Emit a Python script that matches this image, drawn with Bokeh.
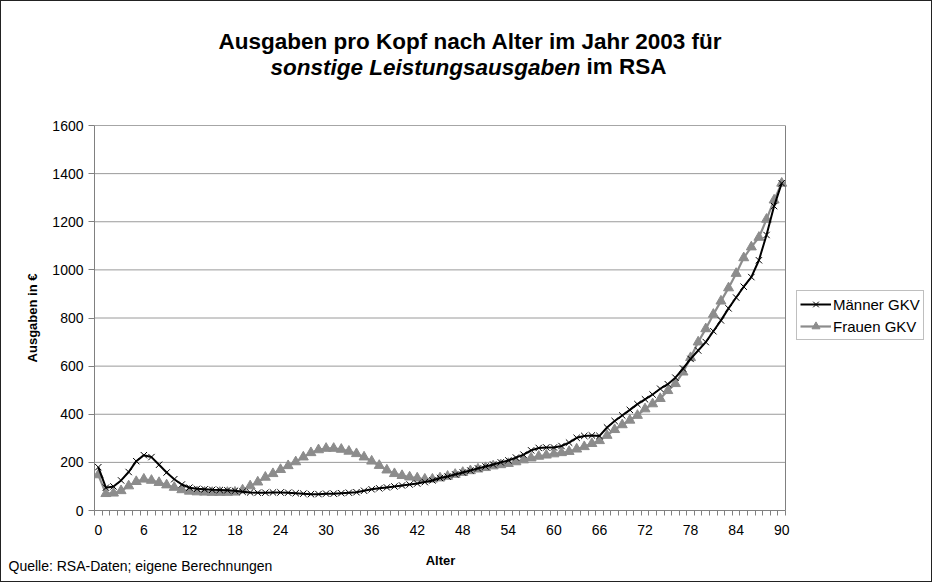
from bokeh.plotting import figure
from bokeh.models import (ColumnDataSource, FixedTicker, Label, Legend, LegendItem, Range1d)
from bokeh.embed import file_html
from bokeh.resources import INLINE

ages = list(range(0, 91))
maenner = [180, 95, 100, 125, 160, 205, 230, 222, 190, 158,
           130, 108, 95, 90, 88, 86, 85, 84, 82, 78,
           75, 74, 74, 75, 75, 74, 72, 70, 68, 68,
           70, 70, 72, 74, 76, 82, 88, 92, 96, 100,
           104, 108, 112, 118, 125, 135, 141, 150, 158, 166,
           175, 183, 191, 200, 208, 220, 232, 250, 260, 262,
           262, 268, 282, 302, 310, 312, 310, 345, 372, 395,
           418, 442, 462, 482, 506, 525, 552, 590, 630, 665,
           700, 745, 790, 840, 885, 930, 970, 1040, 1145, 1265,
           1360]
frauen = [148, 70, 72, 82, 102, 120, 130, 125, 116, 106,
          96, 86, 80, 77, 76, 75, 75, 75, 76, 85,
          102, 118, 138, 153, 170, 186, 202, 222, 240, 252,
          258, 258, 254, 246, 236, 222, 205, 187, 168, 153,
          145, 139, 135, 130, 130, 135, 142, 150, 158, 165,
          172, 178, 185, 190, 195, 202, 210, 218, 225, 230,
          235, 240, 245, 255, 265, 278, 290, 312, 336, 356,
          375, 395, 422, 443, 465, 498, 527, 575, 635, 700,
          755, 815, 870, 925, 985, 1050, 1095, 1135, 1210, 1290,
          1360]
x_ticks = list(range(0, 91, 6))
y_ticks = list(range(0, 1601, 200))

FONT = "Liberation Sans"
GRAY = "#8c8c8c"
AXIS_GRAY = "#808080"

# layout in pixels
W, H = 932, 582
LEFT, TOP, BOTTOM = 93, 124, 73
PLOT_W = 691                      # width of the plot area proper
FRAME_W = W - LEFT                # frame runs to the right edge (legend lives there)

x_lo, x_hi = ages[0] - 0.5, ages[-1] + 0.5
n_cat = len(ages)
x_end = x_lo + FRAME_W * n_cat / PLOT_W

src = ColumnDataSource(dict(alter=ages, m=maenner, f=frauen))

p = figure(width=W, height=H, output_backend="svg", toolbar_location=None,
           x_range=Range1d(x_lo, x_end), y_range=Range1d(y_ticks[0], y_ticks[-1]),
           min_border_left=LEFT, min_border_right=0, min_border_top=TOP,
           min_border_bottom=BOTTOM)
p.styles = {"border": "1px solid #222"}
p.background_fill_color = "white"
p.border_fill_color = "white"
p.outline_line_color = None

p.xaxis.ticker = FixedTicker(ticks=x_ticks, minor_ticks=[a - 0.5 for a in ages + [ages[-1] + 1]])
p.xaxis.bounds = (x_lo, x_hi)
p.yaxis.ticker = FixedTicker(ticks=y_ticks)
for ax in (p.xaxis[0], p.yaxis[0]):
    ax.axis_line_color = AXIS_GRAY
    ax.major_label_text_font = FONT
    ax.major_label_text_font_size = "14px"
    ax.major_label_text_color = "black"
    ax.axis_label_text_font = FONT
    ax.axis_label_text_font_size = "13px"
    ax.axis_label_text_font_style = "bold"
    ax.axis_label_text_color = "black"
p.xaxis.major_tick_line_color = None
p.xaxis.minor_tick_line_color = AXIS_GRAY
p.xaxis.minor_tick_out = 5
p.xaxis.minor_tick_in = 0
p.xaxis.major_label_standoff = 8
p.yaxis.major_tick_line_color = AXIS_GRAY
p.yaxis.major_tick_out = 6
p.yaxis.major_tick_in = 0
p.yaxis.minor_tick_line_color = None
p.yaxis.major_label_standoff = 5
p.yaxis.axis_label = "Ausgaben in €"
p.yaxis.axis_label_standoff = 9

p.xgrid.visible = False
p.ygrid.visible = False

# horizontal grid lines and plot-area border, limited to the category span
p.segment(x0=[x_lo] * len(y_ticks), x1=[x_hi] * len(y_ticks), y0=y_ticks, y1=y_ticks,
          line_color="#9a9a9a", line_width=1)
p.quad(left=[x_lo], right=[x_hi], bottom=[y_ticks[0]], top=[y_ticks[-1]],
       fill_color=None, line_color=AXIS_GRAY, line_width=1)

fl = p.line("alter", "f", source=src, line_color=GRAY, line_width=2.2)
fs = p.scatter("alter", "f", source=src, marker="triangle", size=10,
               fill_color=GRAY, line_color=GRAY)
ml = p.line("alter", "m", source=src, line_color="black", line_width=2)
ms = p.scatter("alter", "m", source=src, marker="x", size=9,
               line_color="black", line_width=1)

legend = Legend(items=[LegendItem(label="Männer GKV", renderers=[ml, ms]),
                       LegendItem(label="Frauen GKV", renderers=[fl, fs])],
                location=(702, 170), orientation="vertical")
legend.label_text_font = FONT
legend.label_text_font_size = "15px"
legend.label_text_color = "black"
legend.border_line_color = AXIS_GRAY
legend.border_line_width = 1
legend.padding = 3
legend.spacing = 2
legend.margin = 0
legend.glyph_width = 31
legend.glyph_height = 20
legend.label_height = 20
legend.label_standoff = 2
legend.background_fill_alpha = 1
p.add_layout(legend, "center")


def lab(x, y, text, size, style, align):
    return Label(x=x, y=y, x_units="screen", y_units="screen", text=text,
                 text_font=FONT, text_font_size=size, text_font_style=style,
                 text_align=align, text_baseline="middle", text_color="black")


# title labels (stacked in the "above" panel); the last ones are the source note
# and the x-axis title, pushed down below the plot
p.add_layout(lab(376, 84, "Ausgaben pro Kopf nach Alter im Jahr 2003 für", "22.5px", "bold", "center"), "above")
p.add_layout(lab(486, 32.8, "sonstige Leistungsausgaben", "22.5px", "bold italic", "right"), "above")
p.add_layout(lab(492, 8.6, "im RSA", "22.5px", "bold", "left"), "above")
p.add_layout(lab(-86, -515.6, "Quelle: RSA-Daten; eigene Berechnungen", "14px", "normal", "left"), "above")
p.add_layout(lab(346, -525.5, "Alter", "13px", "bold", "center"), "above")

open("out.html", "w").write(file_html(p, INLINE))
